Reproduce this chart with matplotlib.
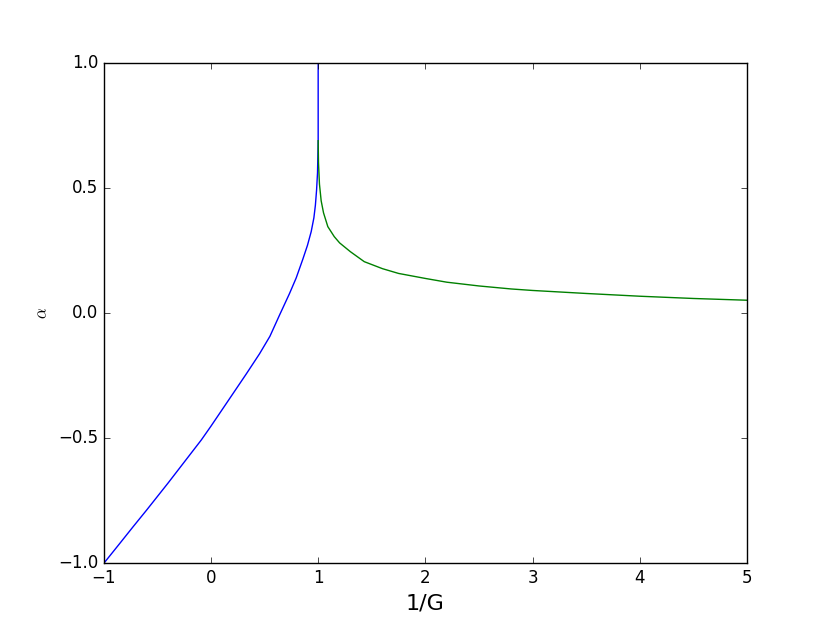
import matplotlib
matplotlib.use("Agg")
import matplotlib.pyplot as plt

# values
inv_g_low = [-1.0, -0.85, -0.727, -0.6, -0.4, -0.2, -0.09, 0.0, 0.158, 0.33,
             0.453, 0.55, 0.64, 0.733, 0.795, 0.857, 0.9, 0.935, 0.96,
             0.974, 0.985, 0.994, 1.0, 1.0]
alpha_low = [-1.0, -0.92, -0.854, -0.787, -0.679, -0.568, -0.507, -0.452, -0.352, -0.243,
             -0.163, -0.093, -0.008, 0.078, 0.14, 0.215, 0.27, 0.325, 0.38,
             0.43, 0.49, 0.56, 0.688, 1.0]

inv_g_high = [1.0, 1.003, 1.012, 1.028, 1.05, 1.09, 1.15, 1.2, 1.3, 1.43,
              1.6, 1.75, 2.0, 2.2, 2.5, 2.8, 3.0, 3.5, 4.0, 4.5, 5.0]
alpha_high = [0.688, 0.6, 0.515, 0.448, 0.4, 0.345, 0.305, 0.28, 0.245, 0.205,
              0.177, 0.158, 0.138, 0.123, 0.108, 0.096, 0.09, 0.078, 0.067, 0.058, 0.051]

plt.style.use("classic")
fig = plt.figure(figsize=(8.3, 6.26), dpi=100, facecolor="white")
ax = fig.add_subplot(111)

ax.plot(inv_g_low, alpha_low, color="b", lw=1.0)
ax.plot(inv_g_high, alpha_high, color="g", lw=1.0)

ax.set_xlim(-1, 5)
ax.set_ylim(-1, 1)
ax.set_xticks([-1, 0, 1, 2, 3, 4, 5])
ax.set_yticks([-1.0, -0.5, 0.0, 0.5, 1.0])
ax.set_xlabel("1/G", fontsize=16)
ax.set_ylabel(r"$\alpha$")

fig.savefig("out.png", dpi=100, facecolor="white")
